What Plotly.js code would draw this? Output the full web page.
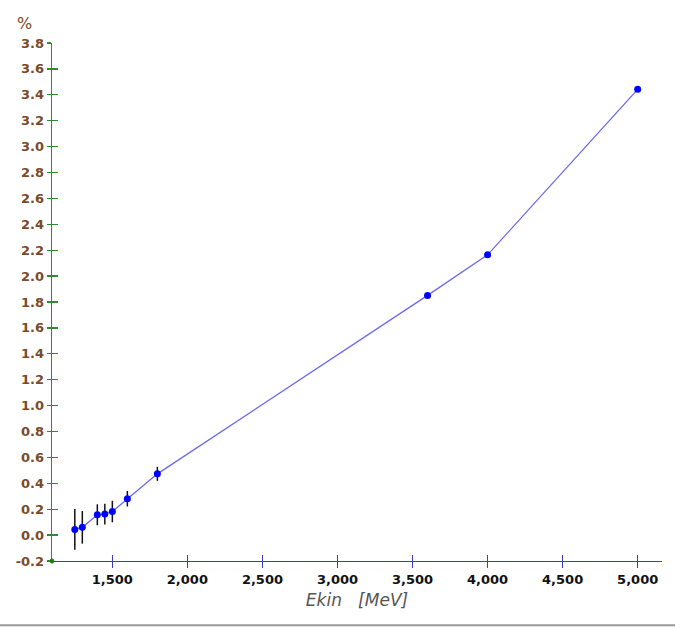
<!DOCTYPE html>
<html>
<head>
<meta charset="utf-8">
<script src="https://cdn.plot.ly/plotly-3.0.1.min.js"></script>
<style>
html,body{margin:0;padding:0;background:#fff;}
#chart{width:675px;height:628px;}
</style>
</head>
<body>
<div id="chart"></div>
<script>
// Data
const ekin = [1250, 1300, 1400, 1450, 1500, 1600, 1800, 3600, 4000, 5000];
const percent = [0.044, 0.060, 0.157, 0.162, 0.182, 0.281, 0.473, 1.851, 2.164, 3.442];
const errors = [0.158, 0.126, 0.081, 0.081, 0.083, 0.060, 0.054, 0.0, 0.0, 0.0];

const xTickVals = [1500, 2000, 2500, 3000, 3500, 4000, 4500, 5000];
const xTickText = ["1,500", "2,000", "2,500", "3,000", "3,500", "4,000", "4,500", "5,000"];
const yTickVals = [-0.2, 0.0, 0.2, 0.4, 0.6, 0.8, 1.0, 1.2, 1.4, 1.6, 1.8, 2.0, 2.2, 2.4, 2.6, 2.8, 3.0, 3.2, 3.4, 3.6, 3.8];
const yTickText = ["-0.2", "0.0", "0.2", "0.4", "0.6", "0.8", "1.0", "1.2", "1.4", "1.6", "1.8", "2.0", "2.2", "2.4", "2.6", "2.8", "3.0", "3.2", "3.4", "3.6", "3.8"];

const xRange = [1098, 5162];
const yRange = [-0.2, 3.8];

const traces = [
  {
    x: ekin, y: percent, type: 'scatter', mode: 'lines',
    line: {color: 'rgba(80,80,235,0.85)', width: 1.3},
    hoverinfo: 'skip', showlegend: false
  },
  {
    x: ekin, y: percent, type: 'scatter', mode: 'markers',
    marker: {color: '#0000ff', size: 7},
    error_y: {type: 'data', array: errors, visible: true, color: '#111', thickness: 1.5, width: 0},
    showlegend: false
  },
  // invisible trace to anchor the overlay axes (inside half of crossing ticks)
  {
    x: [xRange[0]], y: [yRange[0]], xaxis: 'x2', yaxis: 'y2', type: 'scatter', mode: 'markers',
    marker: {color: 'rgba(0,0,0,0)', size: 1}, hoverinfo: 'skip', showlegend: false
  }
];

const brown = '#7a4a28';
const layout = {
  width: 675, height: 628,
  margin: {l: 52, r: 13, t: 43, b: 67},
  paper_bgcolor: '#ffffff', plot_bgcolor: '#ffffff',
  showlegend: false,
  xaxis: {
    range: xRange, tickmode: 'array', tickvals: xTickVals, ticktext: xTickText,
    showgrid: false, zeroline: false,
    showline: true, linecolor: '#3a3acc', linewidth: 1.3,
    ticks: 'outside', ticklen: 6, tickcolor: '#3a3acc', tickwidth: 1.3,
    tickfont: {family: 'DejaVu Sans', size: 13, color: '#111', weight: 'bold'},
    title: {text: 'Ekin   [MeV]', font: {family: 'DejaVu Sans', size: 17, color: '#555', style: 'italic'}, standoff: 8}
  },
  yaxis: {
    range: yRange, tickmode: 'array', tickvals: yTickVals, ticktext: yTickText,
    showgrid: false, zeroline: false,
    showline: true, linecolor: '#2e8b2e', linewidth: 1.3,
    ticks: 'outside', ticklen: 4, tickcolor: '#2e8b2e', tickwidth: 1.3,
    tickfont: {family: 'DejaVu Sans', size: 13, color: brown, weight: 'bold'},
    ticklabelstandoff: 0
  },
  xaxis2: {
    range: xRange, overlaying: 'x', tickmode: 'array', tickvals: xTickVals,
    showticklabels: false, showgrid: false, zeroline: false, showline: false,
    ticks: 'inside', ticklen: 6, tickcolor: '#3a3acc', tickwidth: 1.3, anchor: 'y2'
  },
  yaxis2: {
    range: yRange, overlaying: 'y', tickmode: 'array', tickvals: yTickVals,
    showticklabels: false, showgrid: false, zeroline: false, showline: false,
    ticks: 'inside', ticklen: 6, tickcolor: '#2e8b2e', tickwidth: 1.3, anchor: 'x2'
  },
  annotations: [
    {text: '%', xref: 'paper', yref: 'paper', x: -0.045, y: 1.0, yshift: 20,
     xanchor: 'center', yanchor: 'middle', showarrow: false,
     font: {family: 'DejaVu Sans', size: 16, color: brown}}
  ],
  shapes: [
    {type: 'line', xref: 'paper', yref: 'paper', x0: -0.09, x1: 1.03, y0: -0.124, y1: -0.124,
     line: {color: '#999', width: 2}},
    {type: 'circle', xref: 'paper', yref: 'paper', x0: -0.003, x1: 0.003, y0: -0.004, y1: 0.004,
     fillcolor: '#1a7a1a', line: {color: '#1a7a1a', width: 1}}
  ]
};

Plotly.newPlot('chart', traces, layout, {displayModeBar: false, staticPlot: true});
</script>
</body>
</html>
